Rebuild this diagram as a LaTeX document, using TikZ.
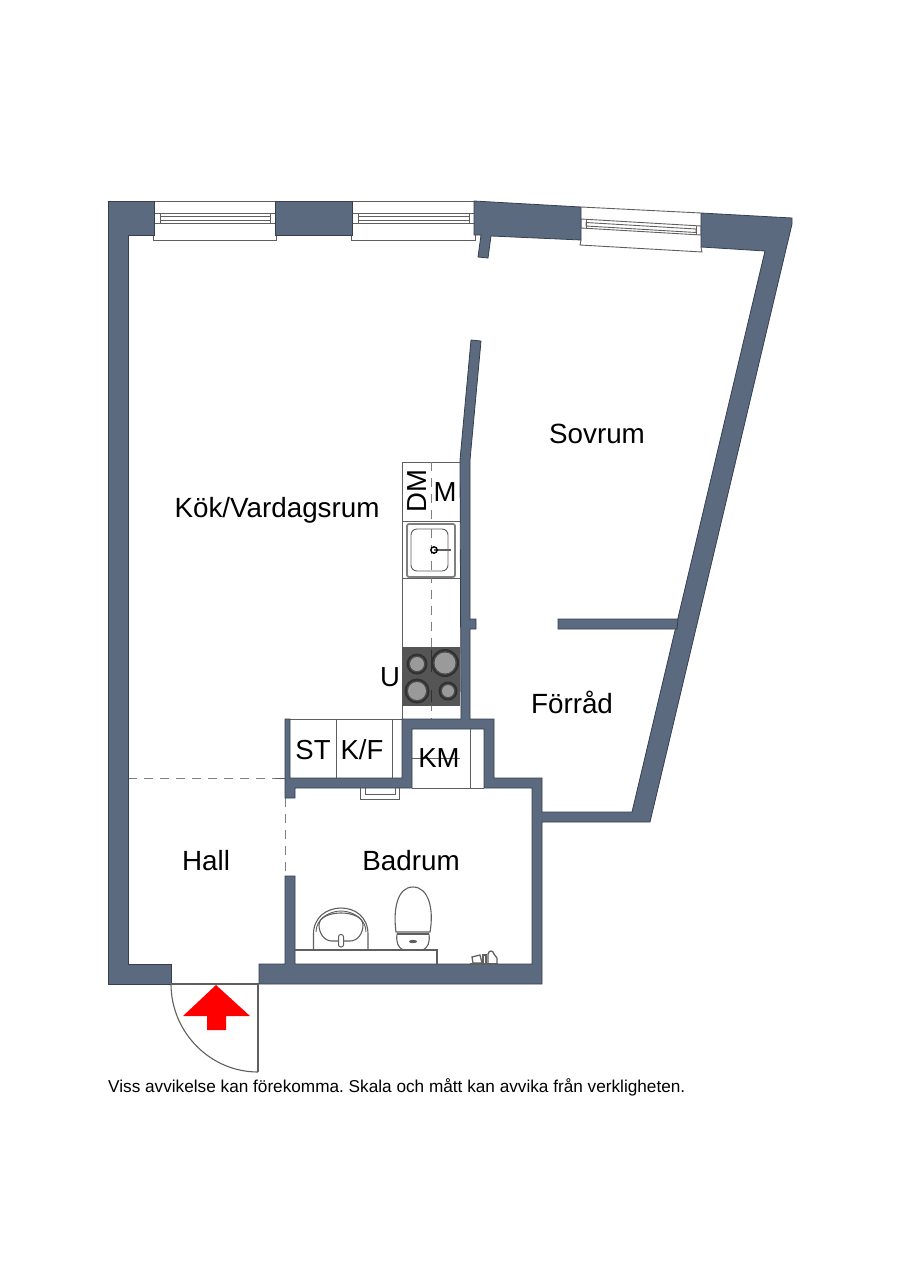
\documentclass[tikz,border=0pt]{standalone}
\usepackage{fontspec}
\setmainfont{Liberation Sans}
\usepackage{xcolor}
\definecolor{wallblue}{HTML}{5C6A7F}
\definecolor{walledge}{HTML}{353F50}
\definecolor{fixture}{HTML}{5F5F5F}
\definecolor{stovegray}{HTML}{555555}
\definecolor{platedark}{HTML}{303030}
\definecolor{platelight}{HTML}{9A9A9A}
\tikzset{
	wall/.style={fill=wallblue,draw=walledge,line width=0.8pt,line join=miter},
	fixline/.style={draw=fixture,line width=1.1pt},
	thinline/.style={draw=fixture,line width=0.9pt},
	zoneline/.style={draw=fixture!80,line width=1pt,dash pattern=on 9pt off 7pt},
	room/.style={font=\fontsize{27.8}{30}\selectfont,text=black,inner sep=0pt},
	unitlabel/.style={font=\fontsize{27.5}{30}\selectfont,text=black,inner sep=0pt}
}
\begin{document}
\frenchspacing
\begin{tikzpicture}[x=1pt,y=-1pt]
	\useasboundingbox (0,0) rectangle (900,1272);
	% kitchen counter
	\draw[thinline] (402,719)--(402,462)--(460,462);
	\draw[thinline] (402,521)--(460,521);
	\draw[thinline] (402,578)--(460,578);
	\draw[zoneline] (431,462)--(431,719);
	% sink
	\filldraw[fill=white,draw=gray,line width=1.8pt,rounded corners=2pt] (407,524) rectangle (455,577);
	\draw[thinline,fill=white,rounded corners=6pt] (411,529) rectangle (448,571);
	\draw[zoneline] (431,529)--(431,571);
	\draw[fixline,line width=1.6pt] (434,550)--(451,550);
	\draw[black,line width=1.4pt] (434,550) circle (3.2);
	% stove
	\fill[stovegray] (402,647) rectangle (460,706);
	\draw[platedark,line width=0.9pt] (431,650)--(431,672);
	\draw[platedark,line width=0.9pt] (431,690)--(431,702);
	\foreach \px/\py/\pr in {417/664/10.5,445/663/14,417/691/12.5,448/691/9.5}{
		\fill[platedark] (\px,\py) circle (\pr);
		\fill[stovegray!70!platedark] (\px,\py) circle (\pr-2);
		\fill[platelight] (\px,\py) circle (\pr-3.5);
	}
	% closet and laundry
	\draw[thinline] (285,719)--(402,719);
	\draw[thinline] (336,719)--(336,778);
	\draw[thinline] (392,719)--(392,778);
	\draw[thinline] (470,729)--(470,788);
	\draw[thinline] (412,758)--(460,758);
	\draw[thinline] (412,788)--(484,788);
	% radiator
	\draw[thinline] (360,788)--(360,799)--(399,799)--(399,788);
	\draw[thinline] (365,788)--(365,794)--(395,794)--(395,788);
	% zone lines
	\draw[zoneline] (128,778)--(285,778);
	\draw[thinline] (275,778)--(285,778);
	\draw[zoneline] (285,798)--(285,876);
	% windows
	\foreach \wa/\wb in {154/275,352/474}{
		\draw[thinline] (\wa,201)--(\wb,201);
		\draw[thinline] (\wa-1,235)--(\wa-1,240)--(\wb+1,240)--(\wb+1,235);
		\draw[thinline] (\wa,213) rectangle (\wb,223);
		\draw[thinline] (\wa+6,216.5) rectangle (\wb-5,220);
		\draw[thinline] (\wa+6,213)--(\wa+6,223);
		\draw[thinline] (\wb-5,213)--(\wb-5,223);
	}
	\draw[thinline] (581,207)--(701,213);
	\draw[thinline] (581,240)--(580,245)--(702,252)--(701,247);
	\draw[thinline] (581,219)--(701,226)--(701,235)--(581,228)--cycle;
	\draw[thinline] (586,222.5)--(696,229)--(696,232.5)--(586,226)--cycle;
	\draw[thinline] (586,219.5)--(586,228);
	\draw[thinline] (696,225.5)--(696,234.5);
	% walls
	\draw[wall] (108,201)--(154,201)--(154,235)--(128,235)--(128,964)--(171,964)--(171,984)--(108,984)--cycle;
	\draw[wall] (275,201) rectangle (352,235);
	\draw[wall] (474,201)--(581,207)--(581,240)--(491,236)--(488,258)--(478,257)--(481,235)--(474,235)--cycle;
	\draw[wall] (285,719)--(290,719)--(290,778)--(402,778)--(402,719)--(461,719)--(460,460)--(471,340)--(481,341)--(470,460)--(470,619)--(476,619)--(476,629)--(470,629)--(470,719)--(494,719)--(494,778)--(542,778)--(542,812)--(632,812)--(765,251)--(701,247)--(701,213)--(792,218)--(792,224)--(650,822)--(542,822)--(542,984)--(259,984)--(259,964)--(285,964)--(285,876)--(295,876)--(295,964)--(532,964)--(532,788)--(484,788)--(484,729)--(412,729)--(412,788)--(295,788)--(295,798)--(285,798)--cycle;
	\draw[wall] (558,619)--(678,619)--(677,629)--(558,629)--cycle;
	% bathroom fixtures
	\draw[fixline] (295,950)--(437,950)--(437,964);
	\draw[fixline] (313.5,950)--(313.5,934) .. controls (313.5,917) and (327,908) .. (341,908) .. controls (355,908) and (368,917) .. (368,934)--(368,950);
	\draw[thinline] (316,932) .. controls (316,919) and (329,911) .. (341,911) .. controls (353,911) and (366,919) .. (366,932);
	\draw[fixline] (319,925) .. controls (319,917) and (330,913) .. (341,913) .. controls (352,913) and (363,917) .. (363,925) .. controls (363,933) and (358,941) .. (350,941)--(332,941) .. controls (324,941) and (319,933) .. (319,925);
	\filldraw[fill=white,draw=fixture,line width=1pt,rounded corners=2.2pt] (338.5,934.5) rectangle (343.5,947);
	\draw[fixline] (396,932) .. controls (393,910) and (397,887) .. (413,887) .. controls (429,887) and (434,910) .. (430,932)--cycle;
	\draw[fixline] (397,934)--(429,934);
	\draw[fixline] (397,934) .. controls (396,943) and (398,947) .. (403,950);
	\draw[fixline] (429,934) .. controls (430,943) and (428,947) .. (423,950);
	\fill[fixture] (413,941.5) ellipse (4 and 1.7);
	% floor drain
	\draw[fixline,line width=1.3pt] (472,957)--(480,955)--(482,963)--(473,963)--cycle;
	\draw[fixline,line width=1.3pt] (483,955) rectangle (486,964);
	\draw[fixline,line width=1.3pt] (488,964)--(488,954) .. controls (489,950) and (493,950) .. (494,954)--(497,958)--(497,964)--cycle;
	\draw[fixline] (470,964)--(498,964);
	% door
	\draw[fixline] (171,984)--(258,984)--(258,1072);
	\draw[fixline] (171,984) .. controls (171,1032) and (210,1072) .. (258,1072);
	\fill[red] (216,985)--(250,1016)--(226,1016)--(226,1030)--(207,1030)--(207,1016)--(183,1016)--cycle;
	% labels
	\node[room] (sovrum) at (597,434) {Sovrum};
	\node[room] (kok) at (277,510) {Kök/Vardagsrum};
	\node[room] (forrad) at (572,702) {Förråd};
	\node[room] (hall) at (206,861) {Hall};
	\node[room] (badrum) at (411,861) {Badrum};
	\node[unitlabel,rotate=90] (dm) at (417,491) {DM};
	\node[unitlabel] (m) at (445,492) {M};
	\node[unitlabel] (u) at (390,677) {U};
	\node[unitlabel] (st) at (313,750) {ST};
	\node[unitlabel] (kf) at (362,750) {K/F};
	\node[unitlabel] (km) at (439,758) {KM};
	\node[anchor=base west,inner sep=0pt,font=\fontsize{17.2}{19}\selectfont] (note) at (108,1092) {Viss avvikelse kan förekomma. Skala och mått kan avvika från verkligheten.};
\end{tikzpicture}
\end{document}
